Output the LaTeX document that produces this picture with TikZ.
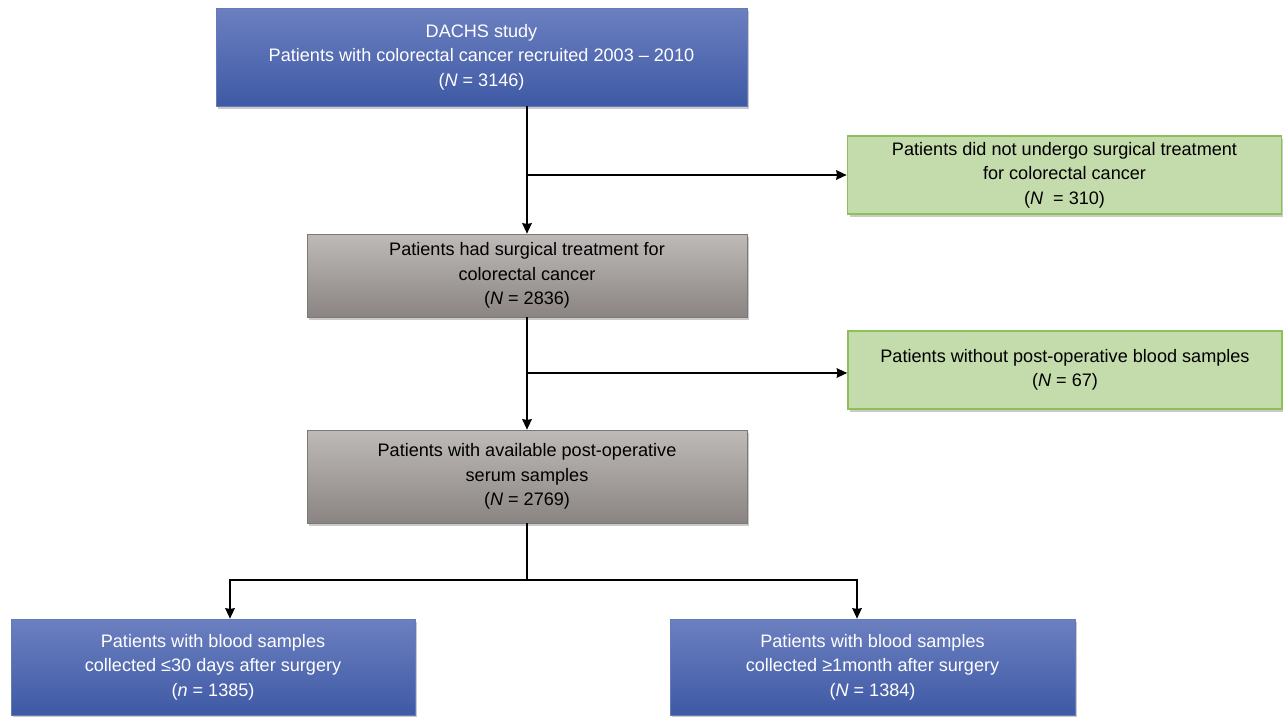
\documentclass[tikz,border=0pt]{standalone}
\usepackage{fontspec}
\setmainfont{Liberation Sans}
\usepackage{tikz}
\usetikzlibrary{arrows, arrows.meta, calc, shadows}

\definecolor{blauOben}{RGB}{108,128,192}
\definecolor{blauUnten}{RGB}{62,89,165}
\definecolor{grauOben}{RGB}{190,186,184}
\definecolor{grauUnten}{RGB}{138,133,131}
\definecolor{gruenFill}{RGB}{196,219,172}
\definecolor{gruenRand}{RGB}{141,192,90}

\begin{document}
\begin{tikzpicture}[>={Stealth[length=6pt,width=5.5pt,inset=0.5pt]}, x=0.02cm, y=-0.02cm,
	box/.style={rectangle, align=center, inner sep=0pt,
		font=\fontsize{10.3}{13.9}\selectfont,
		drop shadow={shadow xshift=1.2pt, shadow yshift=-1.5pt, opacity=0.35, fill=black!60}},
	blueBox/.style={box, shading=axis, top color=blauOben, bottom color=blauUnten, text=white, draw=blauUnten!80!white, line width=0.4pt},
	grayBox/.style={box, shading=axis, top color=grauOben, bottom color=grauUnten, draw=grauUnten!90!black, line width=0.4pt},
	greenBox/.style={box, fill=gruenFill, draw=gruenRand, line width=1pt},
	pfeil/.style={line width=0.8pt}]
		\useasboundingbox (0,0) rectangle (1283,716);
		
		% Kaesten
		\node[blueBox, minimum width=10.62cm, minimum height=1.96cm] (dachs) at (481.5,57)
		{DACHS study\\Patients with colorectal cancer recruited 2003 -- 2010\\(\textit{N} = 3146)};
		\node[greenBox, minimum width=8.68cm, minimum height=1.56cm] (nosurg) at (1064.5,175)
		{Patients did not undergo surgical treatment\\for colorectal cancer\\(\textit{N}~~= 310)};
		\node[grayBox, minimum width=8.8cm, minimum height=1.66cm] (surg) at (527,275.5)
		{Patients had surgical treatment for\\colorectal cancer\\(\textit{N} = 2836)};
		\node[greenBox, minimum width=8.68cm, minimum height=1.56cm] (nosample) at (1065,370)
		{Patients without post-operative blood samples\\(\textit{N} = 67)};
		\node[grayBox, minimum width=8.8cm, minimum height=1.86cm] (serum) at (527,476.5)
		{Patients with available post-operative\\serum samples\\(\textit{N} = 2769)};
		\node[blueBox, minimum width=8.08cm, minimum height=1.92cm] (early) at (213,667)
		{Patients with blood samples\\collected ≤30 days after surgery\\(\textit{n} = 1385)};
		\node[blueBox, minimum width=8.1cm, minimum height=1.92cm] (late) at (872.5,667)
		{Patients with blood samples\\collected ≥1month after surgery\\(\textit{N} = 1384)};
		
		% Linien und Pfeile
		\coordinate (ast1) at (527,175);
		\coordinate (ast2) at (527,373);
		\coordinate (ast3) at (527,580);
		\draw[pfeil,->] (surg.north |- dachs.south) -- (surg.north);
		\draw[pfeil,->] (ast1) -- (nosurg.west |- ast1);
		\draw[pfeil,->] (serum.north |- surg.south) -- (serum.north);
		\draw[pfeil,->] (ast2) -- (nosample.west |- ast2);
		\draw[pfeil] (serum.south) -- (ast3);
		\draw[pfeil,->] (ast3) -| ($(early.north)+(17,0)$);
		\draw[pfeil,->] (ast3) -| ($(late.north)+(-15.5,0)$);
	\end{tikzpicture}
\end{document}
